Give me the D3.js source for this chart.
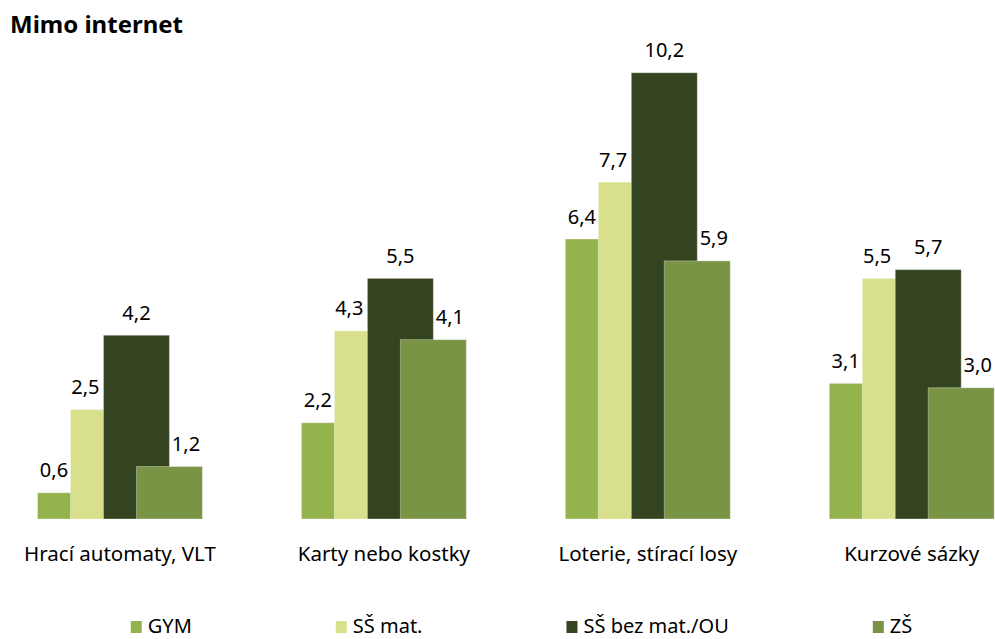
<!DOCTYPE html>
<html>
<head>
<meta charset="utf-8">
<script src="https://cdn.jsdelivr.net/npm/d3@7"></script>
<style>
  body { margin: 0; background: #fff; }
  svg { display: block; font-family: "Noto Sans", "Open Sans", sans-serif; }
</style>
</head>
<body>
<div id="chart"></div>
<script>
// data
var categories = ["Hrací automaty, VLT", "Karty nebo kostky", "Loterie, stírací losy", "Kurzové sázky"];
var seriesNames = ["GYM", "SŠ mat.", "SŠ bez mat./OU", "ZŠ"];
var gym = [0.6, 2.2, 6.4, 3.1];
var ssMat = [2.5, 4.3, 7.7, 5.5];
var ssBez = [4.2, 5.5, 10.2, 5.7];
var zs = [1.2, 4.1, 5.9, 3.0];
var seriesValues = [gym, ssMat, ssBez, zs];

var colors = ["#95b34d", "#d8e08c", "#344320", "#7a9445"];
// excel nudges the labels a bit sideways, in half-bar units
var labelShift = [-0.5, -0.55, 0, 0.5];

var width = 995, height = 639;
var baseY = 519;

var svg = d3.select("#chart").append("svg")
  .attr("width", width)
  .attr("height", height);

var x = d3.scaleBand()
  .domain(categories)
  .range([37.5, 994.2])
  .paddingInner(0.375)
  .paddingOuter(0);

var unit = x.bandwidth() / 5;   // bars are 2 units wide, overlap by half

var y = d3.scaleLinear()
  .domain([0, 11])
  .range([baseY, baseY - 11 * 43.75]);

var fmt = function(v) { return d3.format(".1f")(v).replace(".", ","); };

// title
svg.append("text")
  .attr("x", 10)
  .attr("y", 33)
  .attr("font-size", "24px")
  .attr("font-weight", "bold")
  .attr("fill", "#000")
  .text("Mimo internet");

// bars
seriesValues.forEach(function(vals, s) {
  var g = svg.append("g").attr("class", "series s" + s);
  g.selectAll("rect")
    .data(vals)
    .enter().append("rect")
      .attr("x", function(d, i) { return x(categories[i]) + s * unit; })
      .attr("y", function(d) { return y(d); })
      .attr("width", 2 * unit)
      .attr("height", function(d) { return baseY - y(d); })
      .attr("fill", colors[s])
      .attr("stroke", "#ffffff")
      .attr("stroke-opacity", 0.35)
      .attr("stroke-width", 1);
});

// value labels
seriesValues.forEach(function(vals, s) {
  svg.append("g").selectAll("text")
    .data(vals)
    .enter().append("text")
      .attr("x", function(d, i) { return x(categories[i]) + s * unit + unit + labelShift[s] * unit; })
      .attr("y", function(d) { return y(d) - 15.5; })
      .attr("text-anchor", "middle")
      .attr("font-size", "20px")
      .attr("fill", "#000")
      .text(function(d) { return fmt(d); });
});

// category labels
svg.append("g").selectAll("text")
  .data(categories)
  .enter().append("text")
    .attr("x", function(d) { return x(d) + x.bandwidth() / 2; })
    .attr("y", 561)
    .attr("text-anchor", "middle")
    .attr("font-size", "20.5px")
    .attr("fill", "#000")
    .text(function(d) { return d; });

// legend
var legend = svg.append("g").attr("class", "legend");
var items = legend.selectAll("g")
  .data(seriesNames)
  .enter().append("g");

items.append("rect")
  .attr("x", 0)
  .attr("y", -12)
  .attr("width", 11)
  .attr("height", 12)
  .attr("fill", function(d, i) { return colors[i]; });

items.append("text")
  .attr("x", 17)
  .attr("y", 0)
  .attr("font-size", "20px")
  .attr("fill", "#000")
  .text(function(d) { return d; });

var gap = 144;
var widths = [];
items.each(function() {
  widths.push(17 + d3.select(this).select("text").node().getComputedTextLength());
});
var total = d3.sum(widths) + gap * (widths.length - 1);
var lx = 521.5 - total / 2;
items.attr("transform", function(d, i) {
  var t = "translate(" + lx + "," + 633 + ")";
  lx += widths[i] + gap;
  return t;
});
</script>
</body>
</html>
